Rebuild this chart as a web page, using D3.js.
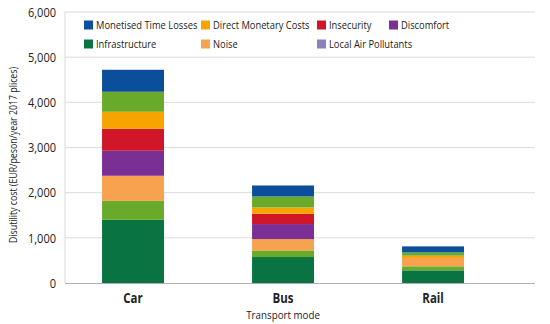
<!DOCTYPE html>
<html>
<head>
<meta charset="utf-8">
<script src="https://cdn.jsdelivr.net/npm/d3@7"></script>
<style>
  body { margin: 0; background: #fff; }
  text { font-family: 'Open Sans', 'Noto Sans', sans-serif; fill: #222; }
</style>
</head>
<body>
<svg id="chart" width="550" height="324"></svg>
<script>
const modes = ['Car', 'Bus', 'Rail']
const yTicks = [0, 1000, 2000, 3000, 4000, 5000, 6000]

// stacked bottom to top
const seriesNames = ['Infrastructure', 'Climate', 'Noise', 'Discomfort', 'Insecurity',
  'Direct Monetary Costs', 'Other', 'Local Air Pollutants', 'Monetised Time Losses']
const infrastructure = [1400, 575, 280]
const climate = [420, 146, 89]
const noise = [554, 252, 186]
const discomfort = [554, 332, 0]
const insecurity = [487, 228, 0]
const directCosts = [376, 140, 50]
const other = [443, 243, 73]
const airPollutants = [0, 0, 0]
const timeLosses = [487, 243, 133]

const colors = {
  'Infrastructure': '#097441',
  'Climate': '#6aaa2b',
  'Noise': '#f6a24f',
  'Discomfort': '#7a2f94',
  'Insecurity': '#d0172a',
  'Direct Monetary Costs': '#f7a300',
  'Other': '#6aaa2b',
  'Local Air Pollutants': '#8f81bb',
  'Monetised Time Losses': '#0a4e9c'
}

const legendRows = [
  ['Monetised Time Losses', 'Direct Monetary Costs', 'Insecurity', 'Discomfort'],
  ['Infrastructure', 'Noise', 'Local Air Pollutants']
]

const values = [infrastructure, climate, noise, discomfort, insecurity, directCosts, other, airPollutants, timeLosses]
const table = modes.map((m, i) => {
  const row = { mode: m }
  seriesNames.forEach((s, j) => { row[s] = values[j][i] })
  return row
})

const margin = { left: 65, right: 15, top: 12, bottom: 41 }
const width = 550, height = 324
const squeeze = 0.85 // the original font is a narrow one
const svg = d3.select('#chart')

const xScale = d3.scaleBand()
  .domain(modes)
  .range([margin.left, width - margin.right])
  .paddingInner(0.587)
  .paddingOuter(0.36)
  .align(0.343)
const yScale = d3.scaleLinear()
  .domain([0, 6000])
  .range([height - margin.bottom, margin.top])

// gridlines
svg.append('g')
  .selectAll('line')
  .data(yTicks.slice(1, -1))
  .join('line')
  .attr('x1', margin.left)
  .attr('x2', width - margin.right)
  .attr('y1', d => yScale(d))
  .attr('y2', d => yScale(d))
  .attr('stroke', '#dcdcdc')
  .attr('stroke-width', 1)

// frame (left + top)
svg.append('path')
  .attr('d', `M${margin.left},${yScale(0)}V${yScale(6000)}H${width - margin.right}`)
  .attr('fill', 'none')
  .attr('stroke', '#d8d8d8')

const stack = d3.stack().keys(seriesNames)
svg.append('g')
  .selectAll('g')
  .data(stack(table))
  .join('g')
  .attr('fill', d => colors[d.key])
  .selectAll('rect')
  .data(d => d)
  .join('rect')
  .attr('x', d => xScale(d.data.mode))
  .attr('width', xScale.bandwidth())
  .attr('y', d => yScale(d[1]))
  .attr('height', d => yScale(d[0]) - yScale(d[1]))

// bottom axis line
svg.append('line')
  .attr('x1', margin.left)
  .attr('x2', width - margin.right)
  .attr('y1', yScale(0) + 0.5)
  .attr('y2', yScale(0) + 0.5)
  .attr('stroke', '#b0b0b0')

// y tick labels
const yAxis = d3.axisLeft(yScale)
  .tickValues(yTicks)
  .tickFormat(d3.format(','))
  .tickSize(0)
  .tickPadding(0)
const yg = svg.append('g')
  .attr('transform', `translate(${margin.left - 9},0)`)
  .call(yAxis)
yg.select('.domain').remove()
yg.selectAll('text')
  .attr('x', 0)
  .attr('transform', `scale(${squeeze},1)`)
  .style('font-size', '13px')
  .style('font-family', "'Open Sans', 'Noto Sans', sans-serif")
  .attr('fill', '#222')

// x labels
const xAxis = d3.axisBottom(xScale).tickSize(0).tickPadding(10)
const xg = svg.append('g')
  .attr('transform', `translate(0,${yScale(0)})`)
  .call(xAxis)
xg.select('.domain').remove()
xg.selectAll('text')
  .attr('x', 0)
  .attr('transform', `scale(${squeeze},1)`)
  .style('font-size', '13.5px')
  .style('font-weight', 'bold')
  .style('font-family', "'Open Sans', 'Noto Sans', sans-serif")
  .attr('fill', '#222')

svg.append('text')
  .attr('transform', `translate(${xScale('Bus') + xScale.bandwidth() / 2},319) scale(${squeeze},1)`)
  .attr('text-anchor', 'middle')
  .style('font-size', '11.5px')
  .text('Transport mode')

svg.append('text')
  .attr('transform', `translate(17,155) rotate(-90) scale(0.8,1)`)
  .attr('text-anchor', 'middle')
  .style('font-size', '11px')
  .text('Disutility cost (EUR/peson/year 2017 plices)')

// legend
const colX = [84, 201, 317, 389]
const rowY = [25, 44]
legendRows.forEach((row, r) => {
  row.forEach((name, c) => {
    const g = svg.append('g').attr('transform', `translate(${colX[c]},${rowY[r]})`)
    g.append('rect')
      .attr('x', 0).attr('y', -4.5)
      .attr('width', 9).attr('height', 9)
      .attr('fill', colors[name])
    g.append('text')
      .attr('transform', `translate(12,4) scale(${squeeze},1)`)
      .style('font-size', '11px')
      .text(name)
  })
})
</script>
</body>
</html>
